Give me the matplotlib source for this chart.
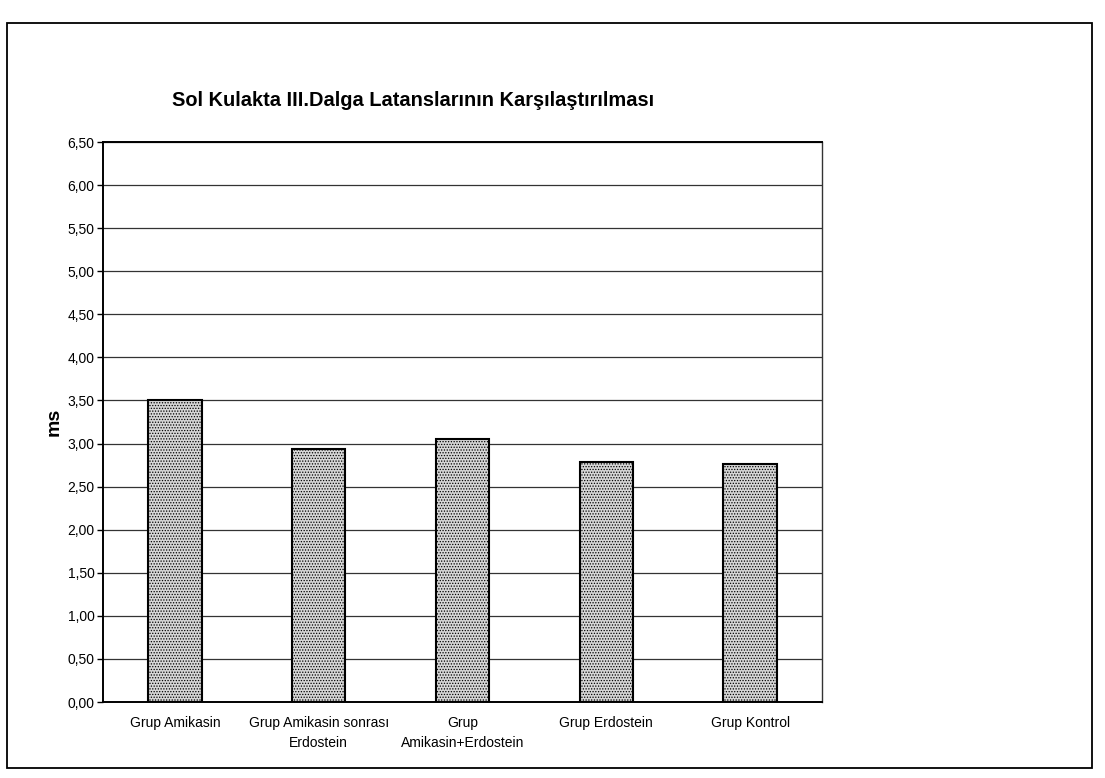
import matplotlib
matplotlib.use("Agg")
import matplotlib.pyplot as plt
from matplotlib.patches import Rectangle
import numpy as np

plt.rcParams['font.family'] = ['Liberation Sans', 'DejaVu Sans']
plt.rcParams['hatch.color'] = '#8a8a8a'
plt.rcParams['hatch.linewidth'] = 0.6

# Data
categories = ["Grup Amikasin", "Grup Amikasin sonrası\nErdostein", "Grup\nAmikasin+Erdostein",
              "Grup Erdostein", "Grup Kontrol"]
latency_ms = [3.50, 2.94, 3.05, 2.78, 2.76]
y_ticks = [0.0, 0.5, 1.0, 1.5, 2.0, 2.5, 3.0, 3.5, 4.0, 4.5, 5.0, 5.5, 6.0, 6.5]
y_tick_labels = ["0,00", "0,50", "1,00", "1,50", "2,00", "2,50", "3,00", "3,50",
                 "4,00", "4,50", "5,00", "5,50", "6,00", "6,50"]
title = "Sol Kulakta III.Dalga Latanslarının Karşılaştırılması"
y_label = "ms"

W, H = 1105, 778
fig = plt.figure(figsize=(W / 100, H / 100), dpi=100)
fig.patch.set_facecolor("white")

# Outer frame around the whole chart
fig.patches.append(Rectangle((7 / W, 1 - 768 / H), 1085 / W, 745 / H, transform=fig.transFigure,
                             fill=False, edgecolor="black", linewidth=1.3))

ax = fig.add_axes([103 / W, 1 - 702 / H, 719 / W, 560 / H])
x = np.arange(len(categories))
ax.bar(x, latency_ms, width=0.37, facecolor="#d6d6d6", edgecolor="black",
       linewidth=1.5, hatch="......", zorder=3)

ax.set_xlim(-0.5, len(categories) - 0.5)
ax.set_ylim(0, 6.5)
ax.set_yticks(y_ticks)
ax.set_yticklabels(y_tick_labels)
ax.set_xticks(x)
ax.set_xticklabels(categories, linespacing=1.6)
ax.tick_params(axis="y", labelsize=10, length=4, width=1, pad=2, colors="black")
ax.tick_params(axis="x", labelsize=10, length=0, pad=10)

ax.yaxis.grid(True, color="#333333", linewidth=0.9, zorder=0)
ax.xaxis.grid(False)
ax.set_axisbelow(True)

for side in ["left", "bottom", "top"]:
    ax.spines[side].set_color("black")
    ax.spines[side].set_linewidth(1.4)
ax.spines["right"].set_color("#333333")
ax.spines["right"].set_linewidth(1.0)
ax.spines["right"].set_linestyle((0, (4, 1)))

ax.set_ylabel(y_label, fontsize=14, fontweight="bold")
ax.yaxis.set_label_coords(-0.056, 0.5)

fig.text(172 / W, 1 - 100 / H, title, fontsize=14.4, fontweight="bold",
         ha="left", va="center")

fig.savefig("out.png", dpi=100, facecolor="white")
